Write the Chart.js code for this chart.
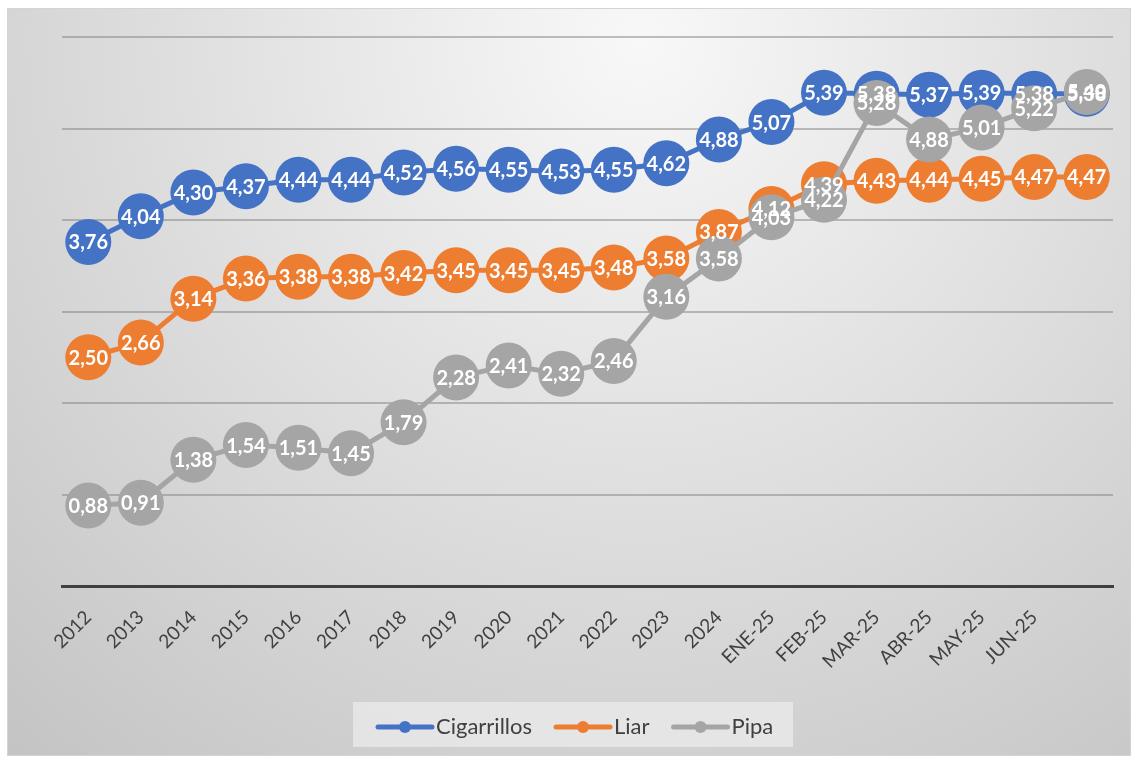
<!DOCTYPE html>
<html>
<head>
<meta charset="utf-8">
<script src="https://cdn.jsdelivr.net/npm/chart.js@4.4.1/dist/chart.umd.min.js"></script>
<style>
    html, body { margin: 0; padding: 0; background: #fff; }
</style>
</head>
<body>
<canvas id="canvas" width="1136" height="760"></canvas>
<script>
var categories = ['2012', '2013', '2014', '2015', '2016', '2017', '2018', '2019', '2020', '2021',
    '2022', '2023', '2024', 'ENE-25', 'FEB-25', 'MAR-25', 'ABR-25', 'MAY-25', 'JUN-25', ''];
var cigarrillos = [3.76, 4.04, 4.30, 4.37, 4.44, 4.44, 4.52, 4.56, 4.55, 4.53,
    4.55, 4.62, 4.88, 5.07, 5.39, 5.38, 5.37, 5.39, 5.38, 5.38];
var liar = [2.50, 2.66, 3.14, 3.36, 3.38, 3.38, 3.42, 3.45, 3.45, 3.45,
    3.48, 3.58, 3.87, 4.12, 4.39, 4.43, 4.44, 4.45, 4.47, 4.47];
var pipa = [0.88, 0.91, 1.38, 1.54, 1.51, 1.45, 1.79, 2.28, 2.41, 2.32,
    2.46, 3.16, 3.58, 4.03, 4.22, 5.28, 4.88, 5.01, 5.22, 5.40];
var seriesNames = ['Cigarrillos', 'Liar', 'Pipa'];
var seriesColors = ['#4472C4', '#ED7D31', '#A5A5A5'];

// panel background + border
var panelBackground = {
    id: 'panelBackground',
    beforeDraw: function (chart) {
        var ctx = chart.ctx;
        ctx.save();
        ctx.fillStyle = '#fff';
        ctx.fillRect(0, 0, chart.width, chart.height);
        var g = ctx.createRadialGradient(640, 40, 0, 640, 40, 950);
        g.addColorStop(0, '#f8f8f8');
        g.addColorStop(1, '#c4c4c4');
        ctx.fillStyle = g;
        ctx.fillRect(7, 8, 1124, 748);
        ctx.strokeStyle = '#d4d4d4';
        ctx.lineWidth = 1;
        ctx.strokeRect(7.5, 8.5, 1123, 747);
        ctx.restore();
    }
};

// white value labels on top of the markers
var pointLabels = {
    id: 'pointLabels',
    afterDatasetsDraw: function (chart) {
        var ctx = chart.ctx;
        ctx.save();
        ctx.font = 'bold 20px Lato';
        ctx.fillStyle = '#fff';
        ctx.textAlign = 'center';
        ctx.textBaseline = 'middle';
        chart.data.datasets.forEach(function (ds, i) {
            var meta = chart.getDatasetMeta(i);
            meta.data.forEach(function (pt, j) {
                ctx.fillText(ds.data[j].toFixed(2).replace('.', ','), pt.x, pt.y + 1);
            });
        });
        ctx.restore();
    }
};

// legend with line + dot symbol inside a light box
var lineLegend = {
    id: 'lineLegend',
    afterDraw: function (chart) {
        var ctx = chart.ctx;
        ctx.save();
        ctx.fillStyle = 'rgba(235,235,235,0.75)';
        ctx.fillRect(353, 702, 440, 45);
        ctx.font = '22px Lato';
        ctx.textBaseline = 'middle';
        var x = 378, y = 727;
        chart.data.datasets.forEach(function (ds) {
            ctx.strokeStyle = ds.borderColor;
            ctx.lineWidth = 5;
            ctx.lineCap = 'round';
            ctx.beginPath();
            ctx.moveTo(x, y);
            ctx.lineTo(x + 54, y);
            ctx.stroke();
            ctx.fillStyle = ds.borderColor;
            ctx.beginPath();
            ctx.arc(x + 27, y, 6, 0, Math.PI * 2);
            ctx.fill();
            ctx.fillStyle = '#404040';
            ctx.fillText(ds.label, x + 58, y);
            x += 58 + ctx.measureText(ds.label).width + 24;
        });
        ctx.restore();
    }
};

var ctx = document.getElementById('canvas').getContext('2d');

var myLineChart = new Chart(ctx, {
    type: 'line',
    data: {
        labels: categories,
        datasets: [
            { label: seriesNames[0], data: cigarrillos, order: 3 },
            { label: seriesNames[1], data: liar, order: 2 },
            { label: seriesNames[2], data: pipa, order: 1 }
        ].map(function (d, i) {
            d.borderColor = seriesColors[i];
            d.backgroundColor = seriesColors[i];
            d.pointBackgroundColor = seriesColors[i];
            d.pointBorderColor = seriesColors[i];
            d.borderWidth = 5;
            d.pointRadius = 23;
            d.pointBorderWidth = 0;
            d.pointHoverRadius = 23;
            d.tension = 0;
            return d;
        })
    },
    options: {
        responsive: false,
        animation: false,
        devicePixelRatio: 1,
        layout: { padding: { left: 62, right: 19, top: 37, bottom: 79 } },
        plugins: {
            legend: { display: false },
            tooltip: { enabled: false }
        },
        scales: {
            x: {
                offset: true,
                grid: { display: false },
                border: { display: true, color: '#404040', width: 3 },
                ticks: {
                    autoSkip: false,
                    minRotation: 45,
                    maxRotation: 45,
                    padding: 12,
                    color: '#404040',
                    font: { family: 'Lato', size: 19 }
                },
                afterFit: function (scale) { scale.height = 95; }
            },
            y: {
                min: 0,
                max: 6,
                ticks: { display: false, stepSize: 1 },
                border: { display: false },
                grid: { color: 'rgba(130,130,130,0.5)', lineWidth: 2, drawTicks: false }
            }
        }
    },
    plugins: [panelBackground, pointLabels, lineLegend]
});
</script>
</body>
</html>
